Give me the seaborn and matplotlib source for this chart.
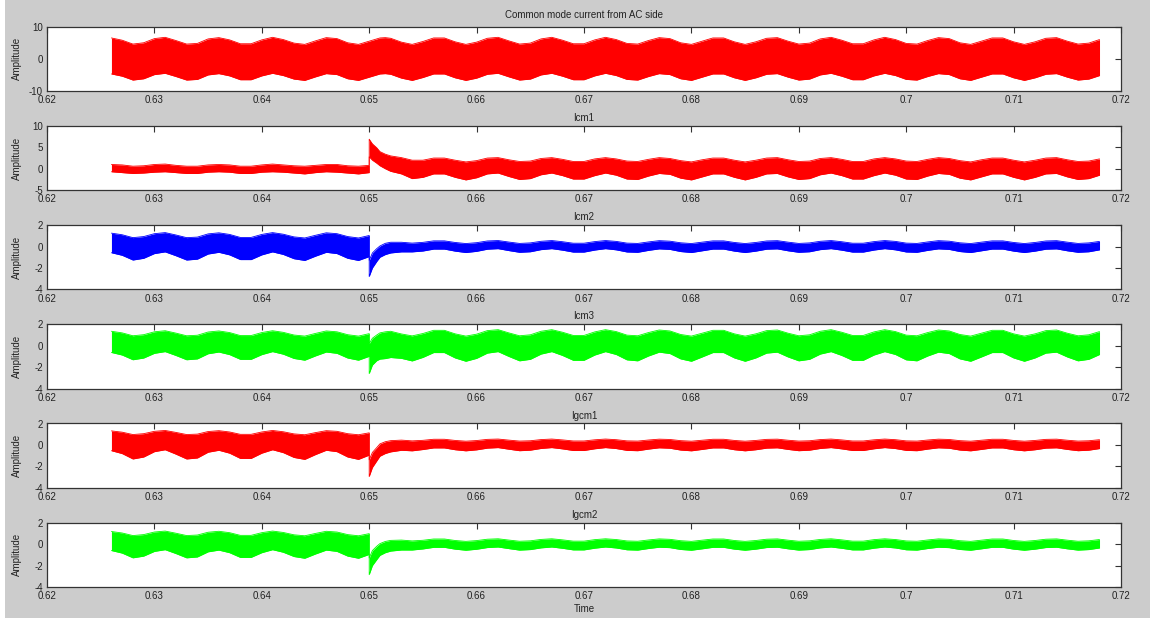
import matplotlib
matplotlib.use("Agg")
import matplotlib.pyplot as plt
from matplotlib.patches import Rectangle
import seaborn as sns

# ---------------- data (envelopes of the simulated currents) ----------------
TIME = [0.626, 0.627, 0.628, 0.629, 0.630, 0.631, 0.632, 0.633, 0.634, 0.635,
        0.636, 0.637, 0.638, 0.639, 0.640, 0.641, 0.642, 0.643, 0.644, 0.645,
        0.646, 0.647, 0.648, 0.649, 0.650,
        0.650, 0.6503, 0.6507, 0.651, 0.6515, 0.652, 0.653, 0.654,
        0.655, 0.656, 0.657, 0.658, 0.659, 0.660, 0.661, 0.662, 0.663, 0.664,
        0.665, 0.666, 0.667, 0.668, 0.669, 0.670, 0.671, 0.672, 0.673, 0.674,
        0.675, 0.676, 0.677, 0.678, 0.679, 0.680, 0.681, 0.682, 0.683, 0.684,
        0.685, 0.686, 0.687, 0.688, 0.689, 0.690, 0.691, 0.692, 0.693, 0.694,
        0.695, 0.696, 0.697, 0.698, 0.699, 0.700, 0.701, 0.702, 0.703, 0.704,
        0.705, 0.706, 0.707, 0.708, 0.709, 0.710, 0.711, 0.712, 0.713, 0.714,
        0.715, 0.716, 0.717, 0.718]

AC_HI = [6.5, 5.8, 4.6, 5.0, 6.3, 6.7, 5.7, 4.6, 4.8, 6.2, 6.6, 5.9, 4.7, 4.7, 5.9, 6.7, 6.0, 4.9, 4.5, 5.6, 6.6, 6.3, 5.0, 4.5, 5.5,
         5.5, 5.8, 6.2, 6.5, 6.6, 6.4, 5.2, 4.5,
         5.4, 6.5, 6.5, 5.3, 4.5, 5.2, 6.4, 6.7, 5.6, 4.6, 4.9, 6.2, 6.7, 5.8, 4.7, 4.7, 5.9, 6.7, 6.0, 4.8,
         4.6, 5.7, 6.6, 6.3, 5.0, 4.5, 5.5, 6.5, 6.5, 5.3, 4.5, 5.3, 6.4, 6.6, 5.5, 4.6, 4.9, 6.2, 6.7, 5.8,
         4.7, 4.7, 5.9, 6.7, 6.0, 4.8, 4.6, 5.7, 6.6, 6.3, 5.0, 4.5, 5.5, 6.5, 6.5, 5.3, 4.5, 5.3, 6.4, 6.6,
         5.5, 4.6, 4.9, 6.0]
AC_LO = [-4.7, -5.4, -6.6, -6.2, -4.9, -4.5, -5.5, -6.6, -6.4, -5.0, -4.6, -5.3, -6.5, -6.5, -5.3, -4.5, -5.2, -6.3, -6.7, -5.6, -4.6, -4.9, -6.2, -6.7, -5.7,
         -5.7, -5.4, -5.0, -4.7, -4.6, -4.8, -6.0, -6.7,
         -5.8, -4.7, -4.7, -5.9, -6.7, -6.0, -4.8, -4.5, -5.6, -6.6, -6.3, -5.0, -4.5, -5.4, -6.5, -6.5, -5.3, -4.5, -5.2, -6.4,
         -6.6, -5.5, -4.6, -4.9, -6.2, -6.7, -5.7, -4.7, -4.7, -5.9, -6.7, -5.9, -4.8, -4.6, -5.7, -6.6, -6.3, -5.0, -4.5, -5.4,
         -6.5, -6.5, -5.3, -4.5, -5.2, -6.4, -6.6, -5.5, -4.6, -4.9, -6.2, -6.7, -5.7, -4.7, -4.7, -5.9, -6.7, -5.9, -4.8, -4.6,
         -5.7, -6.6, -6.3, -5.2]

ICM1_HI = [1.0, 0.9, 0.6, 0.7, 1.0, 1.1, 0.8, 0.6, 0.6, 0.9, 1.0, 0.9, 0.6, 0.6, 0.9, 1.1, 0.9, 0.7, 0.6, 0.8, 1.0, 1.0, 0.7, 0.6, 0.8,
           6.9, 5.8, 4.9, 4.0, 3.4, 3.0, 2.6, 2.0,
           2.0, 2.5, 2.5, 2.0, 1.6, 1.9, 2.5, 2.6, 2.1, 1.7, 1.8, 2.4, 2.6, 2.2, 1.7, 1.7, 2.3, 2.6, 2.3, 1.8,
           1.7, 2.2, 2.6, 2.4, 1.9, 1.6, 2.1, 2.5, 2.5, 2.0, 1.6, 2.0, 2.5, 2.6, 2.1, 1.7, 1.8, 2.4, 2.6, 2.2,
           1.7, 1.7, 2.3, 2.6, 2.3, 1.8, 1.7, 2.2, 2.6, 2.4, 1.9, 1.6, 2.1, 2.5, 2.5, 2.0, 1.6, 2.0, 2.5, 2.6,
           2.1, 1.7, 1.8, 2.3]
ICM1_LO = [-0.7, -0.9, -1.1, -1.0, -0.8, -0.7, -0.9, -1.1, -1.1, -0.8, -0.7, -0.8, -1.1, -1.1, -0.8, -0.7, -0.8, -1.0, -1.2, -0.9, -0.7, -0.8, -1.0, -1.2, -0.9,
           2.8, 2.0, 1.3, 0.7, 0.0, -0.6, -1.2, -2.3,
           -2.0, -1.2, -1.2, -2.0, -2.6, -2.1, -1.2, -1.0, -1.8, -2.5, -2.3, -1.4, -1.0, -1.6, -2.4, -2.4, -1.6, -1.0, -1.5, -2.4,
           -2.5, -1.7, -1.1, -1.3, -2.2, -2.6, -1.9, -1.2, -1.2, -2.0, -2.6, -2.0, -1.2, -1.1, -1.9, -2.5, -2.3, -1.4, -1.0, -1.6,
           -2.4, -2.4, -1.6, -1.0, -1.5, -2.4, -2.5, -1.7, -1.1, -1.3, -2.2, -2.6, -1.9, -1.2, -1.2, -2.0, -2.6, -2.0, -1.2, -1.1,
           -1.9, -2.5, -2.3, -1.5]

ICM2_HI = [1.25, 1.10, 0.83, 0.93, 1.20, 1.30, 1.08, 0.83, 0.88, 1.18, 1.28, 1.13, 0.85, 0.85, 1.13, 1.30, 1.15, 0.90, 0.80, 1.05, 1.28, 1.20, 0.93, 0.80, 1.03,
           -1.30, -0.60, -0.20, 0.05, 0.30, 0.40, 0.40, 0.32,
           0.39, 0.53, 0.53, 0.38, 0.28, 0.36, 0.52, 0.56, 0.42, 0.29, 0.34, 0.49, 0.56, 0.45, 0.31, 0.31, 0.46, 0.56, 0.48, 0.32,
           0.29, 0.43, 0.55, 0.50, 0.35, 0.28, 0.41, 0.53, 0.53, 0.38, 0.28, 0.38, 0.52, 0.55, 0.41, 0.29, 0.34, 0.49, 0.56, 0.45,
           0.31, 0.31, 0.46, 0.56, 0.48, 0.32, 0.29, 0.43, 0.55, 0.50, 0.35, 0.28, 0.41, 0.53, 0.53, 0.38, 0.28, 0.38, 0.52, 0.55,
           0.41, 0.29, 0.34, 0.48]
ICM2_LO = [-0.58, -0.82, -1.26, -1.10, -0.66, -0.50, -0.86, -1.26, -1.18, -0.70, -0.54, -0.78, -1.22, -1.22, -0.78, -0.50, -0.74, -1.14, -1.30, -0.90, -0.54, -0.66, -1.10, -1.30, -0.94,
           -2.80, -2.00, -1.40, -1.00, -0.75, -0.60, -0.50, -0.50,
           -0.42, -0.24, -0.24, -0.43, -0.56, -0.45, -0.25, -0.20, -0.38, -0.54, -0.49, -0.29, -0.20, -0.34, -0.52, -0.52, -0.33, -0.20, -0.31, -0.51,
           -0.54, -0.36, -0.22, -0.27, -0.47, -0.56, -0.40, -0.24, -0.24, -0.43, -0.56, -0.43, -0.25, -0.22, -0.40, -0.54, -0.49, -0.29, -0.20, -0.34,
           -0.52, -0.52, -0.33, -0.20, -0.31, -0.51, -0.54, -0.36, -0.22, -0.27, -0.47, -0.56, -0.40, -0.24, -0.24, -0.43, -0.56, -0.43, -0.25, -0.22,
           -0.40, -0.54, -0.49, -0.31]

ICM3_HI = [1.35, 1.20, 0.93, 1.03, 1.30, 1.40, 1.18, 0.93, 0.98, 1.28, 1.38, 1.23, 0.95, 0.95, 1.23, 1.40, 1.25, 1.00, 0.90, 1.15, 1.38, 1.30, 1.03, 0.90, 1.13,
           0.20, 0.70, 1.00, 1.20, 1.30, 1.35, 1.10, 0.92,
           1.14, 1.44, 1.44, 1.11, 0.90, 1.08, 1.41, 1.50, 1.20, 0.93, 1.02, 1.35, 1.50, 1.26, 0.96, 0.96, 1.29, 1.50, 1.32, 0.99,
           0.93, 1.23, 1.47, 1.38, 1.05, 0.90, 1.17, 1.44, 1.44, 1.11, 0.90, 1.11, 1.41, 1.47, 1.17, 0.93, 1.02, 1.35, 1.50, 1.26,
           0.96, 0.96, 1.29, 1.50, 1.32, 0.99, 0.93, 1.23, 1.47, 1.38, 1.05, 0.90, 1.17, 1.44, 1.44, 1.11, 0.90, 1.11, 1.41, 1.47,
           1.17, 0.93, 1.02, 1.32]
ICM3_LO = [-0.63, -0.87, -1.31, -1.15, -0.71, -0.55, -0.91, -1.31, -1.23, -0.75, -0.59, -0.83, -1.27, -1.27, -0.83, -0.55, -0.79, -1.19, -1.35, -0.95, -0.59, -0.71, -1.15, -1.35, -0.99,
           -2.60, -1.80, -1.40, -1.25, -1.20, -1.10, -1.18, -1.42,
           -1.09, -0.64, -0.64, -1.14, -1.45, -1.18, -0.69, -0.55, -1.00, -1.41, -1.27, -0.78, -0.55, -0.91, -1.36, -1.36, -0.87, -0.55, -0.82, -1.32,
           -1.41, -0.96, -0.60, -0.73, -1.23, -1.45, -1.05, -0.64, -0.64, -1.14, -1.45, -1.14, -0.69, -0.60, -1.05, -1.41, -1.27, -0.78, -0.55, -0.91,
           -1.36, -1.36, -0.87, -0.55, -0.82, -1.32, -1.41, -0.96, -0.60, -0.73, -1.23, -1.45, -1.05, -0.64, -0.64, -1.14, -1.45, -1.14, -0.69, -0.60,
           -1.05, -1.41, -1.27, -0.82]

IGCM1_HI = [1.31, 1.19, 0.97, 1.05, 1.27, 1.35, 1.17, 0.97, 1.01, 1.25, 1.33, 1.21, 0.99, 0.99, 1.21, 1.35, 1.23, 1.03, 0.95, 1.15, 1.33, 1.27, 1.05, 0.95, 1.13,
            -1.40, -0.70, -0.25, 0.10, 0.30, 0.40, 0.45, 0.38,
            0.43, 0.53, 0.53, 0.42, 0.35, 0.41, 0.52, 0.55, 0.45, 0.36, 0.39, 0.50, 0.55, 0.47, 0.37, 0.37, 0.48, 0.55, 0.49, 0.38,
            0.36, 0.46, 0.54, 0.51, 0.40, 0.35, 0.44, 0.53, 0.53, 0.42, 0.35, 0.42, 0.52, 0.54, 0.44, 0.36, 0.39, 0.50, 0.55, 0.47,
            0.37, 0.37, 0.48, 0.55, 0.49, 0.38, 0.36, 0.46, 0.54, 0.51, 0.40, 0.35, 0.44, 0.53, 0.53, 0.42, 0.35, 0.42, 0.52, 0.54,
            0.44, 0.36, 0.39, 0.49]
IGCM1_LO = [-0.54, -0.81, -1.31, -1.13, -0.63, -0.45, -0.86, -1.31, -1.22, -0.68, -0.50, -0.77, -1.26, -1.26, -0.77, -0.45, -0.72, -1.17, -1.35, -0.90, -0.50, -0.63, -1.13, -1.35, -0.95,
            -2.95, -2.10, -1.50, -1.05, -0.80, -0.65, -0.50, -0.55,
            -0.43, -0.28, -0.28, -0.45, -0.55, -0.46, -0.30, -0.25, -0.40, -0.54, -0.49, -0.33, -0.25, -0.37, -0.52, -0.52, -0.36, -0.25, -0.34, -0.51,
            -0.54, -0.39, -0.27, -0.31, -0.48, -0.55, -0.42, -0.28, -0.28, -0.45, -0.55, -0.45, -0.30, -0.27, -0.42, -0.54, -0.49, -0.33, -0.25, -0.37,
            -0.52, -0.52, -0.36, -0.25, -0.34, -0.51, -0.54, -0.39, -0.27, -0.31, -0.48, -0.55, -0.42, -0.28, -0.28, -0.45, -0.55, -0.45, -0.30, -0.27,
            -0.42, -0.54, -0.49, -0.34]

IGCM2_HI = [1.18, 1.04, 0.80, 0.89, 1.13, 1.22, 1.02, 0.80, 0.85, 1.11, 1.20, 1.07, 0.82, 0.82, 1.07, 1.22, 1.09, 0.87, 0.78, 1.00, 1.20, 1.13, 0.89, 0.78, 0.98,
            -1.30, -0.60, -0.20, 0.05, 0.25, 0.35, 0.38, 0.30,
            0.36, 0.48, 0.48, 0.34, 0.26, 0.33, 0.46, 0.50, 0.38, 0.27, 0.31, 0.44, 0.50, 0.40, 0.28, 0.28, 0.42, 0.50, 0.43, 0.30,
            0.27, 0.39, 0.49, 0.45, 0.32, 0.26, 0.37, 0.48, 0.48, 0.34, 0.26, 0.34, 0.46, 0.49, 0.37, 0.27, 0.31, 0.44, 0.50, 0.40,
            0.28, 0.28, 0.42, 0.50, 0.43, 0.30, 0.27, 0.39, 0.49, 0.45, 0.32, 0.26, 0.37, 0.48, 0.48, 0.34, 0.26, 0.34, 0.46, 0.49,
            0.37, 0.27, 0.31, 0.43]
IGCM2_LO = [-0.60, -0.84, -1.28, -1.12, -0.68, -0.52, -0.88, -1.28, -1.20, -0.72, -0.56, -0.80, -1.24, -1.24, -0.80, -0.52, -0.76, -1.16, -1.32, -0.92, -0.56, -0.68, -1.12, -1.32, -0.96,
            -2.85, -2.00, -1.45, -1.05, -0.80, -0.65, -0.55, -0.55,
            -0.45, -0.30, -0.30, -0.47, -0.57, -0.48, -0.32, -0.27, -0.42, -0.56, -0.51, -0.35, -0.27, -0.39, -0.54, -0.54, -0.38, -0.27, -0.36, -0.53,
            -0.56, -0.41, -0.29, -0.33, -0.50, -0.57, -0.44, -0.30, -0.30, -0.47, -0.57, -0.47, -0.32, -0.29, -0.44, -0.56, -0.51, -0.35, -0.27, -0.39,
            -0.54, -0.54, -0.38, -0.27, -0.36, -0.53, -0.56, -0.41, -0.29, -0.33, -0.50, -0.57, -0.44, -0.30, -0.30, -0.47, -0.57, -0.47, -0.32, -0.29,
            -0.44, -0.56, -0.51, -0.36]

TITLES = ["Common mode current from AC side", "Icm1", "Icm2", "Icm3", "Igcm1", "Igcm2"]
SERIES_HI = [AC_HI, ICM1_HI, ICM2_HI, ICM3_HI, IGCM1_HI, IGCM2_HI]
SERIES_LO = [AC_LO, ICM1_LO, ICM2_LO, ICM3_LO, IGCM1_LO, IGCM2_LO]
COLORS = ["#ff0000", "#ff0000", "#0000ff", "#00ff00", "#ff0000", "#00ff00"]
YLIMS = [(-10, 10), (-5, 10), (-4, 2), (-4, 2), (-4, 2), (-4, 2)]
YTICKS = [[-10, 0, 10], [-5, 0, 5, 10], [-4, -2, 0, 2], [-4, -2, 0, 2], [-4, -2, 0, 2], [-4, -2, 0, 2]]
XTICKS = [0.62, 0.63, 0.64, 0.65, 0.66, 0.67, 0.68, 0.69, 0.70, 0.71, 0.72]
XTICK_LABELS = ["0.62", "0.63", "0.64", "0.65", "0.66", "0.67", "0.68", "0.69", "0.7", "0.71", "0.72"]

for h, l in zip(SERIES_HI, SERIES_LO):
    assert len(h) == len(TIME) and len(l) == len(TIME), (len(h), len(l), len(TIME))

# ---------------- style ----------------
sns.set_theme(style="white")
plt.rcParams["font.family"] = ["Liberation Sans", "DejaVu Sans"]
plt.rcParams["axes.unicode_minus"] = False
TXT = "#222222"

W, H = 1154, 621
fig = plt.figure(figsize=(W / 100, H / 100), dpi=100)
fig.patch.set_facecolor("white")
fig.add_artist(Rectangle((5 / W, 3 / H), 1145 / W, 618 / H, transform=fig.transFigure,
                         facecolor="#cccccc", edgecolor="none", zorder=-10))

left, width = 47 / W, 1074 / W
ax_h = 64.3
for k in range(6):
    top_px = 26.7 + 99.2 * k
    bottom = 1 - (top_px + ax_h) / H
    ax = fig.add_axes([left, bottom, width, ax_h / H])
    ax.set_facecolor("white")
    c = COLORS[k]
    ax.fill_between(TIME, SERIES_LO[k], SERIES_HI[k], color=c, linewidth=0, zorder=2)
    sns.lineplot(x=TIME, y=SERIES_HI[k], estimator=None, sort=False, color=c, lw=0.6, ax=ax, zorder=3)
    sns.lineplot(x=TIME, y=SERIES_LO[k], estimator=None, sort=False, color=c, lw=0.6, ax=ax, zorder=3)
    ax.set_xlim(0.62, 0.72)
    ax.set_ylim(*YLIMS[k])
    ax.set_xticks(XTICKS)
    ax.set_xticklabels(XTICK_LABELS)
    ax.set_yticks(YTICKS[k])
    ax.set_yticklabels([str(v) for v in YTICKS[k]])
    ax.tick_params(direction="in", length=4, width=0.8, colors="#333333",
                   top=True, right=True, labelsize=7, labelcolor=TXT)
    ax.tick_params(axis="x", pad=3)
    ax.tick_params(axis="y", pad=3)
    for sp in ax.spines.values():
        sp.set_visible(True)
        sp.set_color("#333333")
        sp.set_linewidth(0.9)
    ax.set_title(TITLES[k], fontsize=7, color=TXT, pad=6 if k == 0 else 3.5)
    ax.set_ylabel("Amplitude", fontsize=7, color=TXT)
    ax.yaxis.set_label_coords(-0.023, 0.5)
    if k == 5:
        ax.set_xlabel("Time", fontsize=7, color=TXT, labelpad=2)
    else:
        ax.set_xlabel("")
    ax.grid(False)

fig.savefig("out.png", dpi=100, facecolor=fig.get_facecolor())
